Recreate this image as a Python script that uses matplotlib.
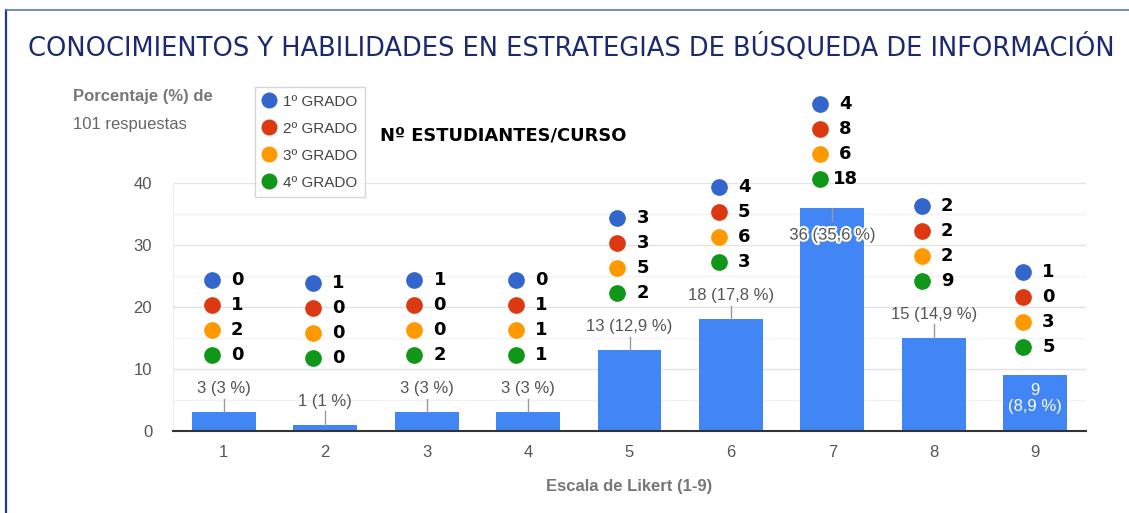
import numpy as np
import matplotlib
matplotlib.use('Agg')
import matplotlib.pyplot as plt
import matplotlib.patheffects as pe
from matplotlib.lines import Line2D

# Likert scale categories and number of answers (101 in total)
categories = [1, 2, 3, 4, 5, 6, 7, 8, 9]
counts = [3, 1, 3, 3, 13, 18, 36, 15, 9]
total = 101

# students per course for each category
grado_labels = ['1º GRADO', '2º GRADO', '3º GRADO', '4º GRADO']
grado1 = [0, 1, 1, 0, 3, 4, 4, 2, 1]
grado2 = [1, 0, 0, 1, 3, 5, 8, 2, 0]
grado3 = [2, 0, 0, 1, 5, 6, 6, 2, 3]
grado4 = [0, 0, 2, 1, 2, 3, 18, 9, 5]

grado_colors = ['#3366CC', '#DC3912', '#FF9900', '#109618']
bar_color = '#4285F4'

# bars whose value label sits inside the bar
inside = [7, 9]


def pct_text(n):
    p = '%.1f' % (100.0 * n / total)
    if p.endswith('.0'):
        p = p[:-2]
    return '(%s %%)' % p.replace('.', ',')


fig = plt.figure(figsize=(11.29, 5.13), dpi=100)
ax = fig.add_axes([173 / 1129, 1 - 431 / 513, 913 / 1129, 248 / 513])

x = np.array(categories)
ax.bar(x, counts, 0.63, color=bar_color, zorder=2)

ax.set_xlim(0.5, 9.5)
ax.set_ylim(0, 40)
ax.set_yticks([0, 10, 20, 30, 40])
ax.set_yticks([5, 15, 25, 35], minor=True)
ax.set_xticks(x)
ax.set_xticklabels([str(c) for c in categories], family='Liberation Sans')
for t in ax.get_yticklabels():
    t.set_family('Liberation Sans')
ax.grid(axis='y', which='major', color='#E3E3E3', lw=1, zorder=0)
ax.grid(axis='y', which='minor', color='#F2F2F2', lw=1, zorder=0)
ax.tick_params(axis='y', which='both', length=0, pad=15, labelsize=12,
               labelcolor='#555555')
ax.tick_params(axis='x', length=0, pad=10, labelsize=12, labelcolor='#555555')
for s in ['top', 'right']:
    ax.spines[s].set_visible(False)
ax.spines['left'].set_color('#EEEEEE')
ax.spines['bottom'].set_color('#333333')
ax.spines['bottom'].set_linewidth(1.5)
ax.spines['bottom'].set_zorder(3)

# value labels with a small stem
for c, n in zip(categories, counts):
    if c in inside:
        if c == max(categories):
            ax.text(c, n - 3.7, '%d\n%s' % (n, pct_text(n)),
                    ha='center', va='center', fontsize=12, color='white',
                    family='Liberation Sans', linespacing=1.1, zorder=4)
        else:
            ax.plot([c, c], [n, n - 2.2], color='#999999', lw=1, zorder=3)
            ax.text(c, n - 4.4, '%d %s' % (n, pct_text(n)), ha='center',
                    va='center', fontsize=12, color='#555555',
                    family='Liberation Sans', zorder=4,
                    path_effects=[pe.withStroke(linewidth=3, foreground='white')])
    else:
        ax.plot([c, c], [n, n + 2.2], color='#999999', lw=1, zorder=3,
                clip_on=False)
        ax.text(c, n + 3.8, '%d %s' % (n, pct_text(n)), ha='center',
                va='center', fontsize=12, color='#555555',
                family='Liberation Sans', zorder=4)

# students per course: coloured dots with numbers
grados = [grado1, grado2, grado3, grado4]
for i, c in enumerate(categories):
    if c in inside:
        base = counts[i] + 4.6
    else:
        base = max(counts[i] + 9.2, 11.8)
    for k in range(4):
        yy = base + (3 - k) * 4.03
        ax.plot(c - 0.12, yy, 'o', ms=11, color=grado_colors[k],
                clip_on=False, zorder=5)
        ax.text(c + 0.13, yy, str(grados[k][i]), ha='center', va='center',
                fontsize=13, fontweight='bold', color='black', clip_on=False,
                zorder=5)

# legend
handles = [Line2D([], [], marker='o', ls='', ms=10.5, color=col)
           for col in grado_colors]
leg = fig.legend(handles, grado_labels, loc='upper left',
                 bbox_to_anchor=(255 / 1129, 1 - 87 / 513), frameon=True,
                 fancybox=False, labelspacing=0.85, fontsize=11,
                 handlelength=0.8, handletextpad=0.55, borderpad=0.5,
                 borderaxespad=0)
leg.get_frame().set_edgecolor('#CCCCCC')
leg.get_frame().set_linewidth(1)
for t in leg.get_texts():
    t.set_color('#444444')
    t.set_family('Liberation Sans')

# texts
fig.text(571 / 1129, 1 - 48 / 513,
         'CONOCIMIENTOS Y HABILIDADES EN ESTRATEGIAS DE BÚSQUEDA DE INFORMACIÓN',
         ha='center', va='center', fontsize=18.5, color='#1B2A6E')
fig.text(73 / 1129, 1 - 96 / 513, 'Porcentaje (%) de', ha='left', va='center',
         fontsize=12, fontweight='bold', color='#777777', family='Liberation Sans')
fig.text(73 / 1129, 1 - 125 / 513, '101 respuestas', ha='left', va='center',
         fontsize=12, color='#666666', family='Liberation Sans')
fig.text(380 / 1129, 1 - 136 / 513, 'Nº ESTUDIANTES/CURSO', ha='left',
         va='center', fontsize=12.9, fontweight='bold', color='black')
fig.text(629 / 1129, 1 - 487 / 513, 'Escala de Likert (1-9)', ha='center',
         va='center', fontsize=12, fontweight='bold', color='#777777',
         family='Liberation Sans')

# frame lines of the original slide
fig.add_artist(Line2D([6 / 1129, 6 / 1129], [0, 1 - 10 / 513],
                      color='#1F3A8A', lw=1.6, transform=fig.transFigure))
fig.add_artist(Line2D([6 / 1129, 1], [1 - 10 / 513, 1 - 10 / 513],
                      color='#5B78B8', lw=1.2, transform=fig.transFigure))

fig.savefig('out.png', dpi=100)
